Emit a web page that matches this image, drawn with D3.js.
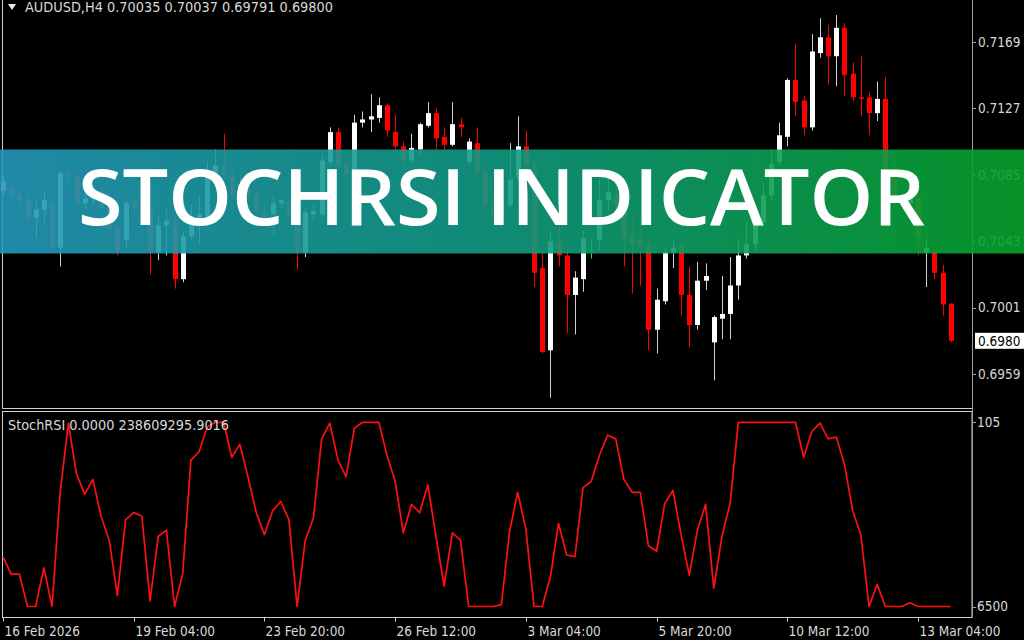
<!DOCTYPE html>
<html>
<head>
<meta charset="utf-8">
<script src="https://cdn.jsdelivr.net/npm/d3@7"></script>
<style>
  html, body { margin: 0; padding: 0; background: #000; }
  svg { display: block; }
  .lbl { font-family: "DejaVu Sans Condensed", "DejaVu Sans", sans-serif; font-stretch: condensed; font-size: 13.5px; fill: #d8d8d8; }
</style>
</head>
<body>
<svg id="chart" width="1024" height="640"></svg>
<script>
// AUDUSD H4 candles (oldest first)
const opens = [0.7075,0.7077,0.7072,0.7069,0.7058,0.7063,0.7066,0.7039,0.7086,0.7084,
  0.7067,0.7070,0.7075,0.7064,0.7051,0.7044,0.7067,0.7064,0.7062,0.7036,
  0.7053,0.7055,0.7019,0.7046,0.7055,0.7058,0.7084,0.7091,0.7085,0.7072,
  0.7077,0.7074,0.7062,0.7060,0.7067,0.7068,0.7058,0.7036,0.7060,0.7060,
  0.7093,0.7112,0.7091,0.7085,0.7118,0.7120,0.7121,0.7129,0.7112,0.7103,
  0.7094,0.7101,0.7116,0.7124,0.7109,0.7104,0.7117,0.7093,0.7105,0.7087,
  0.7066,0.7060,0.7066,0.7083,0.7103,0.7091,0.7026,0.6974,0.7043,0.7034,
  0.7009,0.7019,0.7037,0.7044,0.7069,0.7072,0.7066,0.7047,0.7044,0.7041,
  0.6987,0.7005,0.7036,0.7041,0.7009,0.6990,0.7018,0.6979,0.6994,0.6997,
  0.7015,0.7034,0.7041,0.7055,0.7072,0.7093,0.7109,0.7145,0.7132,0.7115,
  0.7162,0.7172,0.7160,0.7178,0.7149,0.7134,0.7134,0.7124,0.7133,0.7088,
  0.7069,0.7067,0.7071,0.7036,0.7036,0.7023,0.70035];
const highs = [0.7085,0.7080,0.7075,0.7072,0.7068,0.7075,0.7069,0.7088,0.7091,0.7087,
  0.7074,0.7079,0.7078,0.7067,0.7054,0.7070,0.7072,0.7069,0.7064,0.7058,
  0.7063,0.7058,0.7049,0.7066,0.7072,0.7093,0.7101,0.7111,0.7088,0.7083,
  0.7082,0.7077,0.7066,0.7072,0.7070,0.7070,0.7060,0.7064,0.7066,0.7098,
  0.7115,0.7115,0.7094,0.7123,0.7125,0.7136,0.7134,0.7130,0.7123,0.7106,
  0.7111,0.7118,0.7131,0.7127,0.7115,0.7131,0.7121,0.7108,0.7115,0.7091,
  0.7072,0.7070,0.7105,0.7122,0.7113,0.7094,0.7036,0.7049,0.7055,0.7037,
  0.7024,0.7050,0.7044,0.7083,0.7083,0.7079,0.7069,0.7060,0.7055,0.7044,
  0.7013,0.7039,0.7044,0.7045,0.7027,0.7030,0.7029,0.6996,0.7021,0.7033,
  0.7045,0.7056,0.7063,0.7080,0.7101,0.7118,0.7146,0.7168,0.7135,0.7174,
  0.7184,0.7180,0.7186,0.7181,0.7156,0.7160,0.7137,0.7144,0.7147,0.7094,
  0.7075,0.7079,0.7074,0.7044,0.7037,0.7028,0.70037];
const lows = [0.7072,0.7070,0.7066,0.7053,0.7045,0.7055,0.7037,0.7027,0.7081,0.7065,
  0.7063,0.7066,0.7062,0.7049,0.7034,0.7039,0.7060,0.7055,0.7022,0.7031,
  0.7034,0.7013,0.7017,0.7044,0.7041,0.7055,0.7081,0.7082,0.7069,0.7069,
  0.7068,0.7060,0.7051,0.7047,0.7064,0.7055,0.7025,0.7033,0.7056,0.7058,
  0.7091,0.7089,0.7081,0.7083,0.7115,0.7112,0.7118,0.7109,0.7101,0.7091,
  0.7092,0.7098,0.7115,0.7101,0.7101,0.7103,0.7109,0.7091,0.7084,0.7064,
  0.7055,0.7053,0.7063,0.7081,0.7088,0.7014,0.6972,0.6944,0.7027,0.6985,
  0.6984,0.7011,0.7032,0.7037,0.7062,0.7060,0.7027,0.7010,0.7015,0.6974,
  0.6972,0.7003,0.7026,0.6996,0.6976,0.6987,0.7012,0.6955,0.6981,0.6981,
  0.7006,0.7032,0.7037,0.7052,0.7069,0.7091,0.7103,0.7122,0.7110,0.7113,
  0.7159,0.7142,0.7141,0.7135,0.7132,0.7122,0.7110,0.7119,0.7085,0.7063,
  0.7062,0.7063,0.7034,0.7014,0.7019,0.6996,0.69791];
const closes = [0.7081,0.7072,0.7069,0.7058,0.7063,0.7069,0.7039,0.7086,0.7084,0.7067,
  0.7070,0.7075,0.7064,0.7051,0.7037,0.7067,0.7064,0.7062,0.7036,0.7053,
  0.7056,0.7019,0.7046,0.7055,0.7060,0.7084,0.7091,0.7085,0.7072,0.7079,
  0.7072,0.7062,0.7055,0.7067,0.7069,0.7058,0.7036,0.7061,0.7062,0.7094,
  0.7112,0.7091,0.7085,0.7118,0.7120,0.7122,0.7129,0.7113,0.7103,0.7094,
  0.7102,0.7117,0.7124,0.7108,0.7104,0.7117,0.7115,0.7106,0.7087,0.7066,
  0.7060,0.7066,0.7082,0.7103,0.7091,0.7023,0.6973,0.7043,0.7034,0.7009,
  0.7020,0.7045,0.7037,0.7069,0.7074,0.7066,0.7045,0.7041,0.7039,0.6987,
  0.7006,0.7036,0.7039,0.7009,0.6990,0.7018,0.7021,0.6995,0.6997,0.7015,
  0.7034,0.7041,0.7058,0.7072,0.7092,0.7110,0.7145,0.7131,0.7115,0.7163,
  0.7172,0.7160,0.7178,0.7148,0.7134,0.7133,0.7124,0.7133,0.7088,0.7069,
  0.7067,0.7071,0.7045,0.7039,0.7023,0.7003,0.69800];

// StochRSI indicator line, one value per bar
const stochRsi = [27,17.6,17.6,0,0,21,0,62,99.5,72,
  61,69,49,36,6,47,51,49,3,38,
  41.5,0,18,79.5,84,97.5,100,100,81,88,
  70,51,39,52,57,47,0,36,48,91,
  99.5,79.5,70.5,96.7,100,100,100,82,68,40,
  55.5,51,66,38,11,40,36,0,0,0,
  0,1,40.6,62,42,0,0,16,45,28,
  27,64.5,68,82,93,91,69,62,62,33,
  30,56,63,39,17,41.5,55.5,10,38,56,
  100,100,100,100,100,100,100,100,81,95,
  99.5,91,92,77,52,39,0,12,0,0,
  0,2,0,0,0,0,0];

// Price axis and time axis labels
const priceTicks = [0.7169, 0.7127, 0.7085, 0.7043, 0.7001, 0.6959];
const timeTickBars = [0, 16, 32, 48, 64, 80, 96, 112];
const timeTickLabels = ["16 Feb 2026", "19 Feb 04:00", "23 Feb 20:00", "26 Feb 12:00",
  "3 Mar 04:00", "5 Mar 20:00", "10 Mar 12:00", "13 Mar 04:00"];
const lastPrice = 0.6980;
const headerText = "AUDUSD,H4  0.70035 0.70037 0.69791 0.69800";
const indicatorText = "StochRSI 0.0000 238609295.9016";
const indicatorTicks = ["105", "6500"];
const bannerTitle = "STOCHRSI INDICATOR";

const svg = d3.select("#chart");
const W = 1024, H = 640;
const axisX = 972;
const mainTop = 0, mainBottom = 408.5;
const subTop = 411.5, subBottom = 617.5;

svg.append("rect").attr("width", W).attr("height", H).attr("fill", "#000");

const x = d3.scaleLinear().domain([0, opens.length - 1]).range([3, 950.7]);
const y = d3.scaleLinear().domain([0.6959, 0.7169]).range([374, 42]);
const ys = d3.scaleLinear().domain([0, 100]).range([606.5, 422.3]);

// ---- frames ----
const frame = svg.append("g").attr("fill", "none");
frame.append("path").attr("d", `M2.5,${mainTop}V${mainBottom}H${axisX}`).attr("stroke", "#d0d0d0");
frame.append("rect").attr("x", 2.5).attr("y", subTop)
  .attr("width", axisX - 2.5).attr("height", subBottom - subTop).attr("stroke", "#d0d0d0");
frame.append("line").attr("x1", axisX + 0.5).attr("x2", axisX + 0.5)
  .attr("y1", 0).attr("y2", subBottom).attr("stroke", "#a0a0a0");

// ---- candles ----
const bars = d3.range(opens.length).map(i => ({
  i, o: opens[i], h: highs[i], l: lows[i], c: closes[i]
}));
const colorOf = d => d.c > d.o ? "#ffffff" : d.c < d.o ? "#ff0000" : "#00ff00";
const wickOf = d => d.c > d.o ? "#d0d0d0" : d.c < d.o ? "#ff0000" : "#00ff00";

const cg = svg.append("g");
cg.selectAll("line.wick").data(bars).join("line")
  .attr("class", "wick")
  .attr("x1", d => Math.round(x(d.i)) + 0.5).attr("x2", d => Math.round(x(d.i)) + 0.5)
  .attr("y1", d => y(d.h)).attr("y2", d => y(d.l))
  .attr("stroke", wickOf).attr("stroke-width", 1);
cg.selectAll("rect.body").data(bars.filter(d => d.c !== d.o)).join("rect")
  .attr("class", "body")
  .attr("x", d => Math.round(x(d.i)) - 2)
  .attr("width", 5)
  .attr("y", d => y(Math.max(d.o, d.c)))
  .attr("height", d => Math.max(1, Math.abs(y(d.o) - y(d.c))))
  .attr("fill", colorOf);
cg.selectAll("line.doji").data(bars.filter(d => d.c === d.o)).join("line")
  .attr("class", "doji")
  .attr("x1", d => Math.round(x(d.i)) - 2).attr("x2", d => Math.round(x(d.i)) + 3)
  .attr("y1", d => y(d.o)).attr("y2", d => y(d.o))
  .attr("stroke", "#00ff00");

// ---- price axis ----
const pa = svg.append("g");
priceTicks.forEach(p => {
  pa.append("line").attr("x1", axisX).attr("x2", axisX + 4)
    .attr("y1", Math.round(y(p)) + 0.5).attr("y2", Math.round(y(p)) + 0.5).attr("stroke", "#a0a0a0");
  pa.append("text").attr("class", "lbl").attr("x", 978).attr("y", y(p))
    .attr("dy", "0.36em").text(d3.format(".4f")(p));
});
pa.append("rect").attr("x", 975).attr("y", y(lastPrice) - 8).attr("width", 49).attr("height", 16).attr("fill", "#ffffff");
pa.append("text").attr("class", "lbl").attr("x", 978).attr("y", y(lastPrice))
  .attr("dy", "0.36em").style("fill", "#000").text(d3.format(".4f")(lastPrice));

// ---- header ----
svg.append("path").attr("d", "M8,4H16L12,10Z").attr("fill", "#e8e8e8");
svg.append("text").attr("class", "lbl").attr("x", 25).attr("y", 7).attr("dy", "0.36em")
  .attr("textLength", 308).attr("lengthAdjust", "spacingAndGlyphs").text(headerText);

// ---- StochRSI subwindow ----
const line = d3.line().x((d, i) => x(i)).y(d => ys(d));
svg.append("path").datum(stochRsi).attr("d", line)
  .attr("fill", "none").attr("stroke", "#ff1010").attr("stroke-width", 1.7)
  .attr("stroke-linejoin", "round");
svg.append("text").attr("class", "lbl").attr("x", 8).attr("y", 425).attr("dy", "0.36em")
  .attr("textLength", 221).attr("lengthAdjust", "spacingAndGlyphs").text(indicatorText);

[ys(100), ys(0)].forEach((yy, k) => {
  svg.append("line").attr("x1", axisX).attr("x2", axisX + 4)
    .attr("y1", Math.round(yy) + 0.5).attr("y2", Math.round(yy) + 0.5).attr("stroke", "#a0a0a0");
  svg.append("text").attr("class", "lbl").attr("x", 977).attr("y", yy).attr("dy", "0.36em")
    .text(indicatorTicks[k]);
});

// ---- time axis ----
timeTickBars.forEach((b, k) => {
  const tx = Math.round(x(b)) + 0.5;
  svg.append("line").attr("x1", tx).attr("x2", tx).attr("y1", subBottom).attr("y2", subBottom + 4)
    .attr("stroke", "#d0d0d0");
  svg.append("text").attr("class", "lbl").attr("x", tx + 1).attr("y", 631).attr("dy", "0.36em")
    .text(timeTickLabels[k]);
});

// ---- title banner ----
const defs = svg.append("defs");
const grad = defs.append("linearGradient").attr("id", "bannerGrad")
  .attr("x1", "0%").attr("x2", "100%").attr("y1", "0%").attr("y2", "0%");
grad.append("stop").attr("offset", "0%").attr("stop-color", "#2398ba");
grad.append("stop").attr("offset", "50%").attr("stop-color", "#119a80");
grad.append("stop").attr("offset", "100%").attr("stop-color", "#07a22a");

svg.append("rect").attr("x", 0).attr("y", 149.5).attr("width", W).attr("height", 104)
  .attr("fill", "url(#bannerGrad)").attr("opacity", 0.9);
svg.append("text").attr("x", 78).attr("y", 225)
  .attr("textLength", 847).attr("lengthAdjust", "spacingAndGlyphs")
  .style("font-family", "'Open Sans', 'DejaVu Sans', sans-serif")
  .style("font-weight", 600).style("font-size", "77px").style("fill", "#ffffff")
  .text(bannerTitle);
</script>
</body>
</html>
